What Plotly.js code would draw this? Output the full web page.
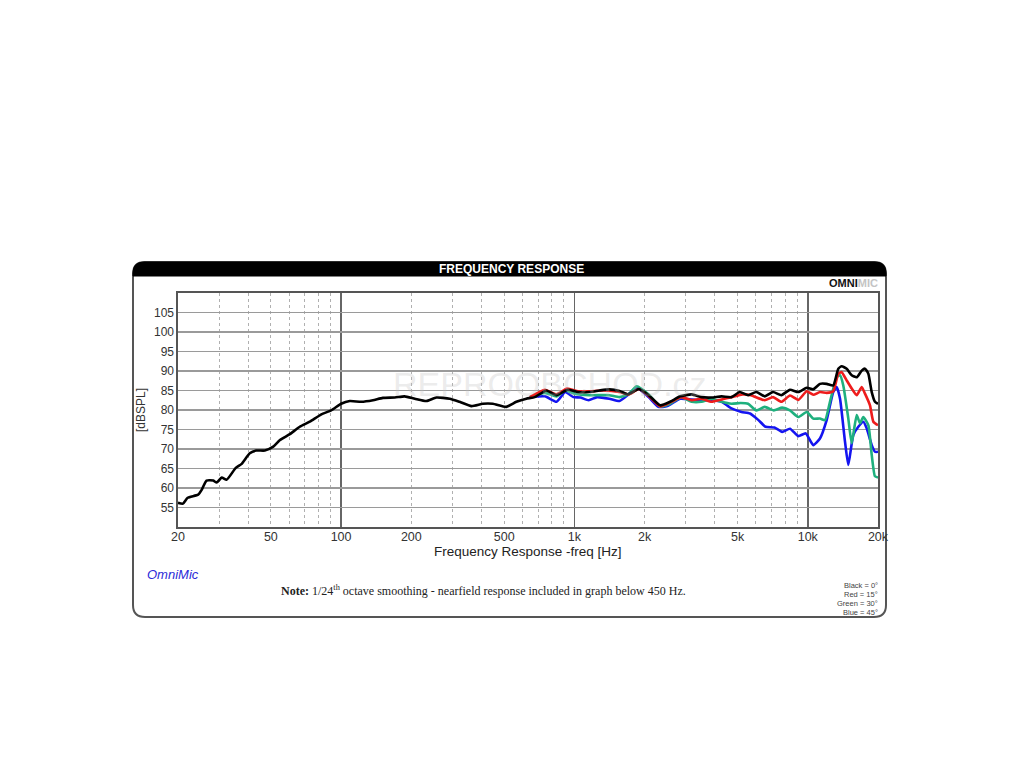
<!DOCTYPE html>
<html>
<head>
<meta charset="utf-8">
<script src="https://cdn.plot.ly/plotly-3.0.1.min.js"></script>
<style>
  html, body { margin: 0; padding: 0; background: #ffffff; }
  #chart { width: 1024px; height: 768px; }
</style>
</head>
<body>
<div id="chart"></div>
<script>
// ---- Data ----
const freqBlack = [20, 21, 22, 24.4, 25.3, 26.5, 28.3, 29.3, 30.8, 32.3, 35.3, 37.5, 40.6, 43.3, 47.1, 51.2, 54.7, 60.3, 66.5, 73.4, 82.3, 90.7, 100, 109, 122, 137, 151, 170, 187, 207, 232, 256, 292, 322, 362, 405, 447, 510, 564, 622, 676, 758, 836, 936, 1036, 1160, 1280, 1410, 1560, 1690, 1890, 2080, 2330, 2570, 2840, 3180, 3500, 3870, 4270, 4710, 5110, 5550, 6020, 6540, 7100, 7710, 8390, 9110, 9900, 10560, 11280, 12050, 12860, 13520, 13980, 14680, 15430, 16210, 17030, 17590, 18180, 18800, 19410, 20000];
const dbBlack = [56.2, 56.0, 57.5, 58.3, 59.6, 61.9, 61.9, 61.4, 62.7, 62.1, 65.1, 66.2, 68.9, 69.6, 69.6, 70.6, 72.3, 73.8, 75.7, 77.0, 78.9, 79.9, 81.6, 82.3, 82.1, 82.5, 83.1, 83.2, 83.5, 82.9, 82.3, 83.2, 82.9, 82.1, 81.0, 81.6, 81.6, 80.8, 82.1, 82.9, 83.3, 85.0, 83.8, 85.2, 84.6, 84.6, 85.0, 85.3, 84.9, 84.0, 85.4, 83.8, 81.2, 82.1, 83.5, 84.0, 83.3, 83.2, 83.5, 83.3, 84.6, 83.8, 84.6, 83.5, 84.6, 83.8, 85.2, 84.6, 85.7, 85.3, 86.7, 86.7, 86.3, 90.6, 91.2, 90.6, 88.9, 88.4, 90.1, 90.6, 89.3, 84.6, 82.1, 81.6];

const freqRed = [644, 748, 838, 930, 1036, 1160, 1340, 1560, 1710, 1890, 2080, 2330, 2600, 2870, 3180, 3500, 3870, 4270, 4710, 5250, 5700, 6540, 7100, 7710, 8390, 9110, 9900, 10560, 11280, 12050, 12860, 13520, 13980, 14680, 15430, 16210, 17030, 17590, 18480, 19100, 20000];
const dbRed = [83.3, 85.2, 84.0, 85.5, 84.8, 84.8, 85.0, 84.6, 84.0, 85.4, 83.6, 80.9, 82.1, 83.3, 82.5, 82.9, 82.1, 82.7, 83.3, 84.0, 83.8, 82.5, 83.3, 82.1, 83.7, 82.6, 84.8, 83.9, 84.6, 84.4, 84.8, 89.3, 89.7, 87.6, 85.5, 83.8, 85.9, 84.2, 81.2, 77.0, 76.1];

const freqGreen = [644, 748, 838, 913, 1000, 1160, 1410, 1560, 1700, 1850, 2080, 2330, 2570, 2870, 3180, 3500, 3870, 4270, 4710, 5160, 5550, 6020, 6540, 7150, 7770, 8390, 9110, 9900, 10560, 11280, 11860, 12450, 13310, 13750, 14200, 14920, 15430, 16210, 16750, 17300, 18180, 18800, 19410, 20000];
const dbGreen = [83.3, 84.4, 83.5, 85.0, 84.2, 83.8, 83.8, 83.3, 84.0, 86.1, 84.0, 80.9, 81.6, 83.3, 82.1, 82.1, 82.9, 82.1, 81.6, 81.8, 81.6, 79.9, 80.8, 79.9, 80.6, 79.9, 78.2, 79.5, 77.8, 77.8, 77.4, 82.1, 88.4, 88.9, 86.3, 77.8, 71.5, 78.7, 76.6, 78.2, 76.1, 68.5, 63.0, 62.7];

const freqBlue = [644, 748, 838, 913, 990, 1060, 1150, 1250, 1410, 1560, 1690, 1850, 2080, 2290, 2500, 2840, 3180, 3500, 3870, 4270, 4710, 5200, 5660, 6150, 6590, 7200, 7770, 8390, 9110, 9800, 10560, 11280, 12050, 12860, 13310, 13750, 14440, 14920, 15670, 16470, 17300, 17890, 18800, 19410, 20000];
const dbBlue = [83.3, 83.5, 82.1, 84.6, 83.3, 83.2, 82.5, 83.3, 82.9, 82.3, 83.8, 85.7, 83.3, 80.8, 81.0, 82.9, 82.7, 82.5, 82.5, 82.1, 80.4, 79.5, 79.1, 77.4, 75.7, 75.5, 74.4, 75.2, 73.3, 74.0, 71.0, 72.7, 77.4, 84.6, 85.9, 82.9, 71.9, 65.9, 73.6, 75.7, 77.0, 75.3, 71.0, 69.3, 69.3];

const xTickVals = [20, 50, 100, 200, 500, 1000, 2000, 5000, 10000, 20000];
const xTickText = ['20', '50', '100', '200', '500', '1k', '2k', '5k', '10k', '20k'];
const xMajorGrid = [100, 1000, 10000];
const xMinorGrid = [30, 40, 50, 60, 70, 80, 90, 200, 300, 400, 500, 600, 700, 800, 900, 2000, 3000, 4000, 5000, 6000, 7000, 8000, 9000];
const yTickVals = [55, 60, 65, 70, 75, 80, 85, 90, 95, 100, 105];
const legendLines = ['Black = 0°', 'Red = 15°', 'Green = 30°', 'Blue = 45°'];

// ---- Layout helpers (pixel -> paper) ----
const PL = 178, PR = 878, PT = 293, PB = 527;
const X = px => (px - PL) / (PR - PL);
const Y = py => (PB - py) / (PB - PT);

function roundRect(x0, y0, x1, y1, r, topOnly) {
  const p = [];
  p.push(`M ${X(x0)} ${Y(topOnly ? y1 : y1 - r)}`);
  p.push(`L ${X(x0)} ${Y(y0 + r)}`);
  p.push(`Q ${X(x0)} ${Y(y0)} ${X(x0 + r)} ${Y(y0)}`);
  p.push(`L ${X(x1 - r)} ${Y(y0)}`);
  p.push(`Q ${X(x1)} ${Y(y0)} ${X(x1)} ${Y(y0 + r)}`);
  if (topOnly) {
    p.push(`L ${X(x1)} ${Y(y1)}`);
  } else {
    p.push(`L ${X(x1)} ${Y(y1 - r)}`);
    p.push(`Q ${X(x1)} ${Y(y1)} ${X(x1 - r)} ${Y(y1)}`);
    p.push(`L ${X(x0 + r)} ${Y(y1)}`);
    p.push(`Q ${X(x0)} ${Y(y1)} ${X(x0)} ${Y(y1 - r)}`);
  }
  p.push('Z');
  return p.join(' ');
}

const lineStyle = (c) => ({ color: c, width: 2.6, shape: 'spline', smoothing: 0.5 });
const traces = [
  { x: freqBlue, y: dbBlue, name: 'Blue = 45°', mode: 'lines', line: lineStyle('#1414f0') },
  { x: freqGreen, y: dbGreen, name: 'Green = 30°', mode: 'lines', line: lineStyle('#1fb07e') },
  { x: freqRed, y: dbRed, name: 'Red = 15°', mode: 'lines', line: lineStyle('#ee1c1c') },
  { x: freqBlack, y: dbBlack, name: 'Black = 0°', mode: 'lines', line: lineStyle('#000000') }
];

const FONT = 'Liberation Sans, Arial, sans-serif';

function ann(text, px, py, xanchor, font) {
  return { text: text, x: X(px), y: Y(py), xref: 'paper', yref: 'paper',
    xanchor: xanchor, yanchor: 'middle', showarrow: false, font: font };
}

const annotations = [
  ann('<b>FREQUENCY RESPONSE</b>', 511, 269, 'center', { family: FONT, size: 12, color: '#ffffff' }),
  ann('<b>OMNI<span style="color:#c4c4c4">MIC</span></b>', 880, 283, 'right', { family: FONT, size: 11, color: '#111111' }),
  ann('REPROOBCHOD.cz', 550, 384, 'center', { family: FONT, size: 34, color: 'rgba(190,190,190,0.3)' }),
  ann('Frequency Response -freq [Hz]', 528, 551, 'center', { family: FONT, size: 13.5, color: '#222222' }),
  ann('<i>OmniMic</i>', 145, 574, 'left', { family: FONT, size: 13, color: '#2b2bd8' }),
  ann('<b>Note:</b> 1/24<sup>th</sup> octave smoothing - nearfield response included in graph below 450 Hz.',
    483, 590, 'center', { family: 'Liberation Serif, Times New Roman, serif', size: 12, color: '#222222' })
];
legendLines.forEach((t, i) => {
  annotations.push(ann(t, 880, 585 + i * 9, 'right', { family: FONT, size: 7.5, color: '#444444' }));
});

const shapes = [
  { type: 'path', xref: 'paper', yref: 'paper', path: roundRect(133, 262, 886, 617, 12, false),
    line: { color: '#555555', width: 2 }, fillcolor: '#ffffff', layer: 'below' },
  { type: 'path', xref: 'paper', yref: 'paper', path: roundRect(133, 262, 886, 276, 11, true),
    line: { color: '#000000', width: 1 }, fillcolor: '#000000', layer: 'below' }
];

const layout = {
  width: 1024, height: 768,
  margin: { l: PL, r: 1024 - PR, t: PT, b: 768 - PB, pad: 0 },
  paper_bgcolor: '#ffffff', plot_bgcolor: 'rgba(0,0,0,0)',
  showlegend: false,
  font: { family: FONT, color: '#333333' },
  xaxis: {
    type: 'log', range: [Math.log10(20), Math.log10(20000)],
    tickmode: 'array', tickvals: xMajorGrid, showticklabels: false, ticks: '',
    showgrid: true, gridcolor: '#666666', gridwidth: 1.6,
    minor: { tickmode: 'array', tickvals: xMinorGrid, showgrid: true, gridcolor: '#b0b0b0', griddash: 'dot', gridwidth: 1, ticks: '' },
    showline: true, mirror: true, linecolor: '#555555', linewidth: 1.6,
    zeroline: false, fixedrange: true
  },
  xaxis2: {
    type: 'log', range: [Math.log10(20), Math.log10(20000)], overlaying: 'x', anchor: 'y', side: 'bottom',
    tickmode: 'array', tickvals: xTickVals, ticktext: xTickText, ticks: '',
    showgrid: false, showline: false, zeroline: false,
    tickfont: { family: FONT, size: 12.5, color: '#333333' }
  },
  yaxis: {
    range: [50, 110], tickmode: 'array', tickvals: yTickVals, ticks: '',
    showgrid: true, gridcolor: '#9a9a9a', gridwidth: 1.4,
    showline: true, mirror: true, linecolor: '#555555', linewidth: 1.6,
    zeroline: false, tickfont: { family: FONT, size: 12, color: '#333333' },
    title: { text: '[dBSPL]', font: { family: FONT, size: 12, color: '#333333' }, standoff: 6 }
  },
  annotations: annotations,
  shapes: shapes
};

// invisible trace that activates the label axis (xaxis2)
const axisTrace = { x: [20, 20000], y: [50, 50], xaxis: 'x2', yaxis: 'y', mode: 'lines',
  line: { width: 0, color: 'rgba(0,0,0,0)' }, hoverinfo: 'skip', showlegend: false };

Plotly.newPlot('chart', [axisTrace].concat(traces), layout, { displayModeBar: false, staticPlot: true });
</script>
</body>
</html>
